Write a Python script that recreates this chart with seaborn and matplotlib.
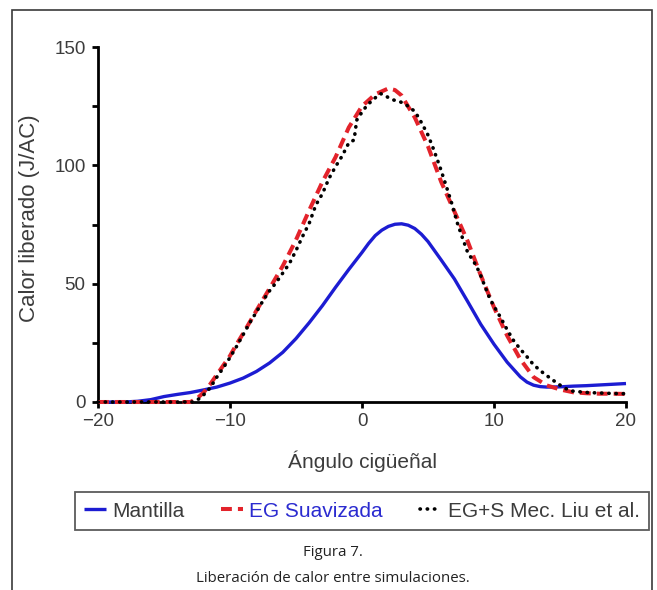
import matplotlib
matplotlib.use("Agg")
import matplotlib.pyplot as plt
from matplotlib.patches import Rectangle
from matplotlib.ticker import MultipleLocator
import seaborn as sns
import pandas as pd

# Heat release vs crank angle for three simulation approaches
angle_mantilla = [-20, -19, -18, -17, -16, -15, -14, -13, -12, -11, -10, -9, -8, -7, -6,
                  -5, -4, -3, -2, -1, 0, 0.5, 1, 1.5, 2, 2.5, 3, 3.5, 4, 4.5, 5, 6, 7, 8,
                  9, 10, 11, 12, 12.5, 13, 13.5, 14, 15, 16, 17, 18, 19, 20]
calor_mantilla = [0, 0, 0.0, 0.3, 1.0, 2.3, 3.2, 4.0, 5.1, 6.3, 8.0, 10.1, 12.9, 16.5, 21.0,
                  26.8, 33.5, 40.7, 48.5, 56.0, 63.2, 67.0, 70.3, 72.6, 74.2, 75.1, 75.3,
                  74.7, 73.3, 70.9, 67.8, 60.0, 52.0, 42.5, 32.8, 24.4, 16.8, 10.6, 8.4,
                  7.1, 6.5, 6.3, 6.4, 6.7, 6.9, 7.2, 7.5, 7.8]

angle_suav = [-20, -13, -12.5, -12, -11.5, -11, -10.5, -10, -9.5, -9, -8, -7, -6, -5, -4,
              -3, -2, -1, 0, 1, 2, 2.5, 3, 3.5, 4, 5, 6, 7, 8, 9, 10, 11, 12, 13, 14, 15,
              16, 17, 18, 19, 20]
calor_suav = [0, 0, 1.5, 4.0, 7.5, 11.5, 15.5, 19.5, 24.4, 29.0, 38.6, 48.0, 57.5, 68.5, 81.0,
              93.0, 103.5, 116.0, 125.0, 130.0, 132.5, 131.8, 129.5, 124.8, 120.2, 108.0,
              93.0, 80.5, 68.0, 53.5, 40.0, 28.0, 18.0, 10.5, 7.0, 5.3, 4.1, 3.7, 3.5, 3.5, 3.4]

angle_liu = [-20, -12.8, -12.3, -12, -11.5, -11, -10.5, -10, -9.5, -9, -8.5, -8, -7.5, -7,
             -6.5, -6, -5.5, -5, -4.5, -4, -3.5, -3, -2.5, -2, -1.5, -1, -0.6, -0.4, 0, 0.4,
             0.8, 1.1, 1.4, 1.7, 2.0, 2.4, 2.8, 3.2, 3.6, 4.0, 4.4, 4.7, 5.0, 5.4, 5.9, 6.4,
             6.8, 7.2, 7.6, 8.0, 8.5, 8.9, 9.3, 9.7, 10.1, 10.5, 11, 11.5, 12, 12.5, 13.0,
             13.7, 14.3, 14.9, 15.4, 15.8, 16.5, 17.1, 18, 19, 20]
calor_liu = [0, 0, 1.5, 3.0, 6.0, 10.5, 14.5, 18.8, 23.5, 28.5, 33.5, 38.0, 42.8, 47.0,
             50.5, 54.5, 58.5, 64.0, 70.0, 75.5, 83.2, 88.0, 94.5, 99.5, 104.0, 109.5, 110.7,
             119.1, 122.5, 125.5, 127.5, 129.0, 130.3, 129.7, 128.6, 127.6, 127.0, 126.2,
             124.5, 122.8, 119.1, 116.0, 112.8, 107.1, 99.4, 90.9, 83.9, 76.0, 69.5, 63.3,
             59.0, 54.8, 49.0, 43.5, 39.5, 35.7, 30.5, 25.8, 22.3, 19.1, 15.7, 12.4, 9.9,
             7.5, 5.8, 4.7, 4.3, 4.0, 3.8, 3.6, 3.5]

labels = ["Mantilla", "EG Suavizada", "EG+S Mec. Liu et al."]
x_ticks = [-20, -10, 0, 10, 20]
y_ticks = [0, 50, 100, 150]

sns.set_style("ticks")
plt.rcParams["font.family"] = ["Liberation Sans", "DejaVu Sans"]
text_gray = "#3c3c3c"

W, H = 657, 590
fig = plt.figure(figsize=(W / 100, H / 100), dpi=100)
fig.patch.set_facecolor("white")
ax = fig.add_axes([98 / W, 1 - 402 / H, (626 - 98) / W, (402 - 47) / H])

df_m = pd.DataFrame({"angulo": angle_mantilla, "calor": calor_mantilla})
df_s = pd.DataFrame({"angulo": angle_suav, "calor": calor_suav})
df_l = pd.DataFrame({"angulo": angle_liu, "calor": calor_liu})

blue = "#1c1cd2"
red = "#e3232b"

sns.lineplot(data=df_m, x="angulo", y="calor", ax=ax, color=blue, linewidth=2.4,
             errorbar=None, zorder=3, clip_on=False, solid_capstyle="butt")
sns.lineplot(data=df_s, x="angulo", y="calor", ax=ax, color=red, linewidth=2.9,
             linestyle=(0, (2.7, 1.5)), errorbar=None, zorder=4, clip_on=False)
sns.lineplot(data=df_l, x="angulo", y="calor", ax=ax, color="black", linewidth=2.6,
             linestyle=(0, (0.1, 1.9)), dash_capstyle="round", errorbar=None,
             zorder=5, clip_on=False)

ax.set_xlim(-20, 20)
ax.set_ylim(0, 150)
ax.set_xticks(x_ticks)
ax.set_xticklabels([str(v).replace("-", "\u2212") for v in x_ticks])
ax.set_yticks(y_ticks)
ax.yaxis.set_minor_locator(MultipleLocator(25))

for side in ("top", "right"):
    ax.spines[side].set_visible(False)
for side in ("left", "bottom"):
    ax.spines[side].set_linewidth(2.0)
    ax.spines[side].set_color("black")

ax.tick_params(axis="both", which="both", direction="out", length=4, width=2.0,
               color="black", labelsize=13.5, labelcolor=text_gray)
ax.tick_params(axis="x", pad=4)
ax.tick_params(axis="y", pad=5)

ax.set_xlabel("Ángulo cigüeñal", fontsize=15, color=text_gray, va="center")
ax.set_ylabel("Calor liberado (J/AC)", fontsize=16, color=text_gray, va="center")
ax.xaxis.set_label_coords(0.5, (402 - 461) / (402 - 47))
ax.yaxis.set_label_coords((30 - 98) / (626 - 98), (402 - 218) / (402 - 47))
ax.grid(False)

handles = ax.get_lines()[:3]
leg = fig.legend(handles, labels, loc="lower left",
                 bbox_to_anchor=(75 / W, 1 - 530 / H, (649 - 75) / W, 41 / H),
                 mode="expand", ncol=3, fontsize=15, frameon=True, fancybox=False,
                 edgecolor="#333333", borderaxespad=0, handlelength=1.05,
                 handletextpad=0.3, borderpad=0.45, columnspacing=0.8)
leg.get_frame().set_linewidth(1.3)
for txt, col in zip(leg.get_texts(), [text_gray, "#2b2bd0", text_gray]):
    txt.set_color(col)

cx = 333 / W
fig.text(cx, 1 - 552 / H, "Figura 7.", ha="center", va="center",
         family=["Open Sans", "DejaVu Sans"], fontsize=10.8, color="#222222")
fig.text(cx, 1 - 578 / H, "Liberación de calor entre simulaciones.", ha="center",
         va="center", family=["Open Sans", "DejaVu Sans"], fontsize=10.8, color="#222222")

fig.add_artist(Rectangle((12 / W, -0.05), (652 - 12) / W, 1.05 - 10 / H,
                         transform=fig.transFigure, fill=False, edgecolor="#3a3a3a",
                         linewidth=1.2, clip_on=False))

fig.savefig("out.png", dpi=100, facecolor="white")
